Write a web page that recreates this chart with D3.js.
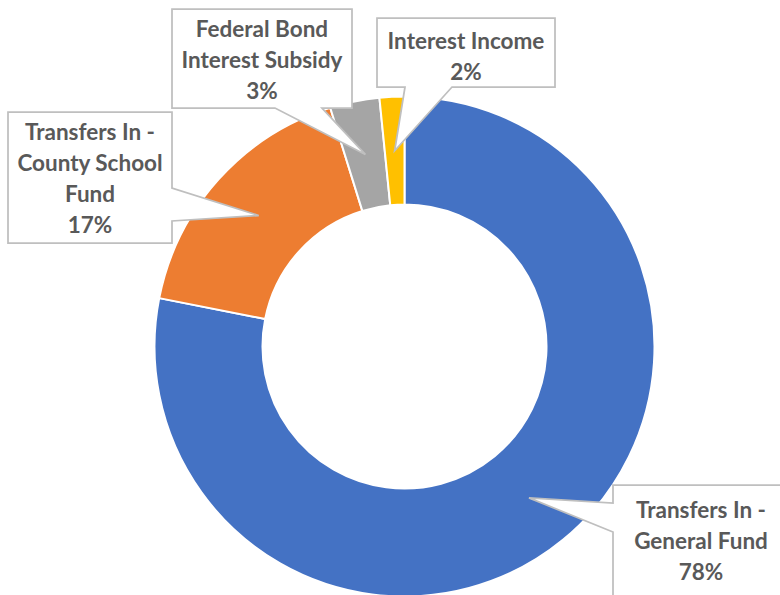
<!DOCTYPE html>
<html>
<head>
<meta charset="utf-8">
<script src="https://cdn.jsdelivr.net/npm/d3@7"></script>
<style>
  html, body { margin: 0; padding: 0; background: #ffffff; }
  svg { display: block; }
</style>
</head>
<body>
<div id="chart"></div>
<script>
// Revenue sources (share of total, percent)
const categories = [
  "Transfers In - General Fund",
  "Transfers In - County School Fund",
  "Federal Bond Interest Subsidy",
  "Interest Income"
];
const values = [78.1, 17.1, 3.2, 1.6];
const colors = ["#4472C4", "#ED7D31", "#A5A5A5", "#FFC000"];
// Label text lines for each callout (the percentage is appended)
const labelLines = [
  ["Transfers In -", "General Fund"],
  ["Transfers In -", "County School", "Fund"],
  ["Federal Bond", "Interest Subsidy"],
  ["Interest Income"]
];

const W = 780, H = 595;
const cx = 404.5, cy = 346.5, outerR = 250, innerR = 142;

const svg = d3.select("#chart").append("svg")
  .attr("width", W).attr("height", H);

const total = d3.sum(values);
const pie = d3.pie().sort(null).value(d => d)(values);
const arc = d3.arc().innerRadius(innerR).outerRadius(outerR);

const g = svg.append("g").attr("transform", `translate(${cx},${cy})`);

g.selectAll("path.slice")
  .data(pie)
  .join("path")
  .attr("class", "slice")
  .attr("d", arc)
  .attr("fill", (d, i) => colors[i])
  .attr("stroke", "#ffffff")
  .attr("stroke-width", 2)
  .attr("stroke-linejoin", "round");

// Callout boxes: rectangle, the side the pointer leaves from, and the pointer base span
const callouts = [
  { box: [613, 485, 180, 120], side: "left",   base: [503, 532], tx: 701, ty: 518 },
  { box: [8, 112, 164, 131],   side: "right",  base: [188, 221], tx: 90,  ty: 140 },
  { box: [172, 9, 180, 99],    side: "bottom", base: [275, 322], tx: 262, ty: 37 },
  { box: [377, 18, 178, 69],   side: "bottom", base: [405, 452], tx: 466, ty: 49 }
];
const lineGap = 31;

function calloutPath(c, tip) {
  const [x, y, w, h] = c.box;
  const x2 = x + w, y2 = y + h;
  const [b0, b1] = c.base;
  let pts;
  if (c.side === "left") {
    pts = [[x, y], [x2, y], [x2, y2], [x, y2], [x, b1], tip, [x, b0]];
  } else if (c.side === "right") {
    pts = [[x, y], [x2, y], [x2, b0], tip, [x2, b1], [x2, y2], [x, y2]];
  } else {
    pts = [[x, y], [x2, y], [x2, y2], [b1, y2], tip, [b0, y2], [x, y2]];
  }
  return "M" + pts.map(p => p.join(",")).join("L") + "Z";
}

const labels = svg.append("g");
pie.forEach((d, i) => {
  const c = callouts[i];
  const [mx, my] = arc.centroid(d);
  const tip = [cx + mx, cy + my];
  labels.append("path")
    .attr("d", calloutPath(c, tip))
    .attr("fill", "#ffffff")
    .attr("stroke", "#BFBFBF")
    .attr("stroke-width", 1.75)
    .attr("stroke-linejoin", "miter");
  const pct = Math.round(d.value / total * 100) + "%";
  const lines = labelLines[i].concat([pct]);
  const t = labels.append("text")
    .attr("text-anchor", "middle")
    .attr("font-family", "Lato, 'Open Sans', sans-serif")
    .attr("font-weight", "bold")
    .attr("font-size", 22.5)
    .attr("fill", "#595959");
  lines.forEach((ln, k) => {
    t.append("tspan")
      .attr("x", c.tx)
      .attr("y", c.ty + k * lineGap)
      .text(ln);
  });
});
</script>
</body>
</html>
